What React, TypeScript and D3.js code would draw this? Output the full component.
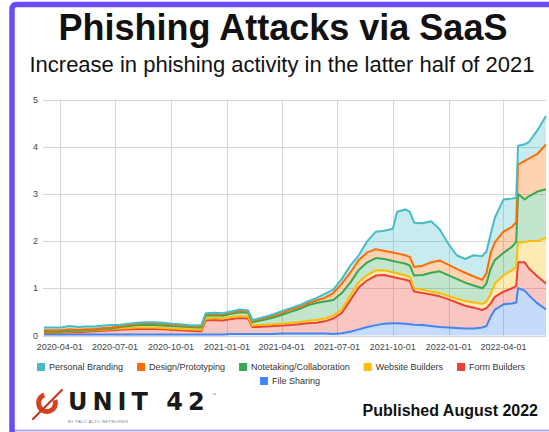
import React from 'react';
import * as d3 from 'd3';

const dates = [
  "2020-03-06","2020-03-20","2020-04-03","2020-04-17","2020-05-01","2020-05-15","2020-05-29","2020-06-12","2020-06-26",
  "2020-07-10","2020-07-24","2020-08-07","2020-08-21","2020-09-04","2020-09-18","2020-10-02","2020-10-16","2020-10-30",
  "2020-11-13","2020-11-20","2020-11-27","2020-12-11","2020-12-25","2021-01-08","2021-01-22","2021-02-05","2021-02-12",
  "2021-02-19","2021-03-05","2021-03-19","2021-04-02","2021-04-16","2021-04-30","2021-05-14","2021-05-28","2021-06-11",
  "2021-06-25","2021-07-09","2021-07-23","2021-08-06","2021-08-20","2021-09-03","2021-09-17","2021-10-01","2021-10-08",
  "2021-10-22","2021-10-29","2021-11-05","2021-11-19","2021-12-03","2021-12-17","2021-12-31","2022-01-14","2022-01-28",
  "2022-02-11","2022-02-25","2022-03-04","2022-03-11","2022-03-18","2022-04-01","2022-04-15","2022-04-22","2022-04-25",
  "2022-05-06","2022-05-13","2022-05-27","2022-06-10"
];

const fileSharing = [
  .02,.02,.02,.02,.02,.02,.02,.02,.02,.02,.02,.02,.02,.02,.02,.02,.02,.02,.02,.02,.02,.02,.02,
  .03,.03,.03,.03,.03,.03,.03,.04,.04,.04,.04,.04,.04,.03,.05,.08,.13,.18,.22,.25,.26,.26,.25,.24,
  .23,.22,.20,.18,.17,.16,.15,.15,.17,.20,.40,.55,.66,.68,.70,1.00,.95,.85,.68,.55
];
const formBuilders = [
  .03,.03,.04,.05,.05,.06,.07,.08,.09,.10,.11,.12,.12,.12,.11,.10,.09,.08,.07,.07,.30,.31,.30,
  .32,.34,.33,.15,.15,.16,.17,.17,.18,.20,.22,.23,.26,.33,.43,.67,.89,.99,1.05,1.03,.98,.96,.93,.91,
  .70,.68,.67,.65,.60,.54,.48,.44,.37,.38,.28,.27,.27,.32,.35,.55,.60,.57,.57,.55
];
const websiteBuilders = [
  .02,.02,.01,.02,.02,.02,.02,.02,.02,.03,.03,.03,.03,.03,.03,.03,.03,.03,.03,.03,.04,.04,.04,
  .04,.04,.04,.03,.04,.04,.04,.04,.05,.04,.05,.06,.06,.06,.07,.10,.11,.11,.11,.10,.10,.10,.09,.09,
  .07,.07,.06,.07,.07,.08,.10,.11,.13,.14,.20,.28,.35,.38,.40,.42,.43,.58,.75,.97
];
const notetaking = [
  .01,.01,.01,.01,.01,.01,.01,.02,.02,.03,.04,.05,.05,.05,.05,.05,.05,.05,.05,.05,.06,.06,.06,
  .07,.08,.08,.07,.08,.11,.14,.19,.23,.28,.33,.36,.36,.33,.35,.27,.26,.27,.26,.24,.24,.24,.25,.24,
  .27,.31,.40,.46,.44,.42,.39,.36,.33,.38,.54,.50,.47,.50,.53,1.03,.90,.95,1.05,1.03
];
const designPrototyping = [
  .03,.03,.03,.03,.02,.02,.02,.02,.02,.02,.03,.03,.04,.04,.04,.03,.02,.02,.02,.02,.03,.03,.03,
  .03,.03,.03,.03,.03,.04,.04,.04,.05,.04,.04,.05,.08,.15,.20,.21,.21,.21,.19,.17,.18,.18,.18,.18,
  .18,.20,.22,.23,.22,.21,.21,.19,.18,.22,.33,.38,.45,.42,.42,.62,.82,.80,.80,.95
];
const personalBranding = [
  .06,.06,.06,.07,.06,.06,.05,.05,.05,.03,.02,.02,.02,.02,.02,.02,.03,.02,.02,.03,.02,.02,.02,
  .02,.03,.02,.02,.02,.02,.03,.04,.03,.04,.04,.05,.08,.07,.10,.15,.10,.24,.37,.43,.50,.88,.97,.96,
  .94,.90,.87,.66,.45,.29,.29,.45,.50,.46,.40,.52,.68,.60,.52,.40,.35,.35,.50,.60
];

const legendNames = ["Personal Branding", "Design/Prototyping", "Notetaking/Collaboration", "Website Builders", "Form Builders", "File Sharing"];
const legendColors = ["#46bdc6", "#ff6d01", "#34a853", "#fbbc04", "#ea4335", "#4285f4"];
const yTicks = [0, 1, 2, 3, 4, 5];
const xTickLabels = ["2020-04-01","2020-07-01","2020-10-01","2021-01-01","2021-04-01","2021-07-01","2021-10-01","2022-01-01","2022-04-01"];

const FONT = "'Liberation Sans', Arial, sans-serif";

export default function App() {
  const parse = d3.utcParse("%Y-%m-%d");
  const rows = dates.map((d, i) => ({
    date: parse(d) as Date,
    fs: fileSharing[i], fb: formBuilders[i], wb: websiteBuilders[i],
    nc: notetaking[i], dp: designPrototyping[i], pb: personalBranding[i],
  }));
  const keys = ["fs", "fb", "wb", "nc", "dp", "pb"];
  const keyColor: Record<string, string> = {
    fs: legendColors[5], fb: legendColors[4], wb: legendColors[3],
    nc: legendColors[2], dp: legendColors[1], pb: legendColors[0],
  };
  const stacked = d3.stack<any>().keys(keys)(rows as any);

  const left = 43, right = 546, top = 99.5, bottom = 335.5;
  const x = d3.scaleUtc().domain(d3.extent(rows, r => r.date) as [Date, Date]).range([44, 546]);
  const y = d3.scaleLinear().domain([0, 5]).range([bottom, top]);

  const area = d3.area<any>().x(d => x(d.data.date)).y0(d => y(d[0])).y1(d => y(d[1]));
  const line = d3.line<any>().x(d => x(d.data.date)).y(d => y(d[1]));

  const xTicks = xTickLabels.map(s => parse(s) as Date);

  const fs = 9;
  const sq = 8;
  const row1 = [0, 1, 2, 3, 4];
  const ctx = (typeof document !== 'undefined') ? document.createElement('canvas').getContext('2d') : null;
  const measure = (t: string) => {
    if (ctx) { ctx.font = `${fs}px 'Liberation Sans', Arial, sans-serif`; return ctx.measureText(t).width; }
    return t.length * fs * 0.5;
  };
  const gap1 = 4, gap2 = 14;
  let lx = 37;
  const row1Items = row1.map(i => {
    const w = measure(legendNames[i]);
    const item = { i, x: lx, w };
    lx += sq + gap1 + w + gap2;
    return item;
  });
  const fsW = measure(legendNames[5]);
  const row2X = 290 - (sq + gap1 + fsW) / 2;

  return (
    <svg width={549} height={432} style={{ position: 'absolute', left: 0, top: 0, background: '#fff' }} fontFamily={FONT}>
      <rect x={0} y={0} width={549} height={432} fill="#fff" />
      <line x1={12} y1={430.5} x2={549} y2={430.5} stroke="#b4a9f6" strokeWidth={2} />
      <path d="M12,432 L12,9 Q12,4.5 16.5,4.5 L549,4.5" fill="none" stroke="#6a4bf7" strokeWidth={5.5} />

      <text x={283} y={40} textAnchor="middle" fontSize={36} fontWeight="bold" fill="#111">Phishing Attacks via SaaS</text>
      <text x={282} y={72} textAnchor="middle" fontSize={22} fill="#111">Increase in phishing activity in the latter half of 2021</text>

      <g stroke="#d6d6d6" strokeWidth={1}>
        {yTicks.map(t => (
          <line key={'h' + t} x1={left} x2={right} y1={Math.round(y(t)) + 0.5} y2={Math.round(y(t)) + 0.5} />
        ))}
        {xTicks.map((t, i) => (
          <line key={'v' + i} x1={Math.round(x(t)) + 0.5} x2={Math.round(x(t)) + 0.5} y1={top} y2={bottom} />
        ))}
      </g>

      {stacked.map(s => (
        <path key={'a' + s.key} d={area(s) as string} fill={keyColor[s.key]} fillOpacity={0.3} stroke="none" />
      ))}
      {stacked.map(s => (
        <path key={'l' + s.key} d={line(s) as string} fill="none" stroke={keyColor[s.key]} strokeWidth={2} strokeLinejoin="round" />
      ))}

      {yTicks.map(t => (
        <text key={'yl' + t} x={38} y={y(t) + 3} textAnchor="end" fontSize={9} fill="#444">{t}</text>
      ))}
      {xTicks.map((t, i) => (
        <text key={'xl' + i} x={x(t)} y={350} textAnchor="middle" fontSize={9} fill="#444">{xTickLabels[i]}</text>
      ))}

      {row1Items.map(it => (
        <g key={'lg' + it.i}>
          <rect x={it.x} y={363} width={sq} height={sq} fill={legendColors[it.i]} />
          <text x={it.x + sq + gap1} y={370} fontSize={fs} fill="#333">{legendNames[it.i]}</text>
        </g>
      ))}
      <g>
        <rect x={row2X} y={377} width={sq} height={sq} fill={legendColors[5]} />
        <text x={row2X + sq + gap1} y={384} fontSize={fs} fill="#333">{legendNames[5]}</text>
      </g>

      <g>
        <circle cx={47} cy={403} r={8.5} fill="none" stroke="#d9401f" strokeWidth={5} strokeDasharray="40 13.4" transform="rotate(-20 47 403)" />
        <line x1={33} y1={419} x2={62} y2={390} stroke="#c23a22" strokeWidth={2.2} strokeLinecap="round" />
        <text x={68} y={410} fontSize={24} fontWeight="bold" fontFamily="'DejaVu Sans', sans-serif" letterSpacing={5} fill="#1a1a1a">UNIT 42</text>
        <text x={212} y={396} fontSize={4} fill="#555">™</text>
        <text x={68} y={423} fontSize={4} fill="#777" letterSpacing={0.4}>BY PALO ALTO NETWORKS</text>
      </g>

      <text x={538} y={416} textAnchor="end" fontSize={16} fontWeight="bold" fill="#111">Published August 2022</text>
    </svg>
  );
}
